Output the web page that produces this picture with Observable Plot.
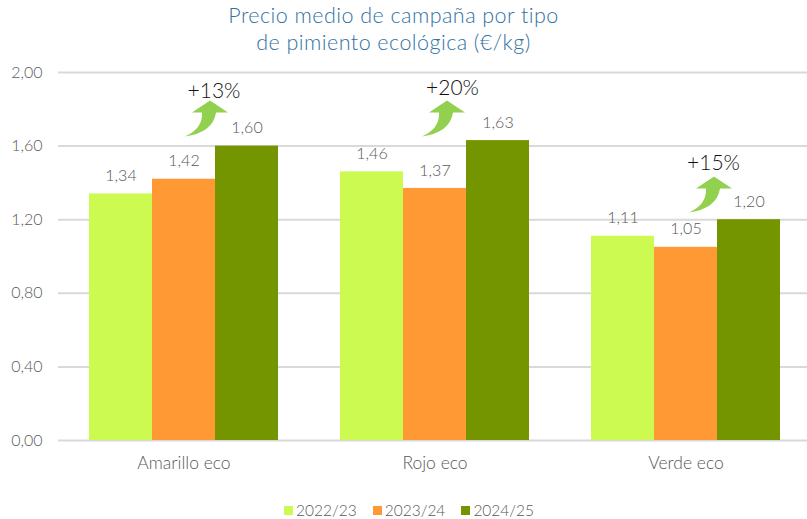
<!DOCTYPE html>
<html><head><meta charset="utf-8">
<script src="https://cdn.jsdelivr.net/npm/d3@7"></script>
<script src="https://cdn.jsdelivr.net/npm/@observablehq/plot@0.6"></script>
<style>
html,body{margin:0;padding:0;background:#fff;width:807px;height:519px;overflow:hidden;font-family:Lato,sans-serif}
#title{height:60px;box-sizing:border-box;padding-top:2px;padding-right:20px;text-align:center;color:#2f72a3;font-size:21.5px;font-weight:300;line-height:26.5px;letter-spacing:.45px}
#legend{position:absolute;top:500px;left:284px;display:flex;gap:16px;color:#595959;font-size:15.5px;font-weight:300;line-height:20px}
#legend span{display:flex;align-items:center;gap:3px}
#legend i{display:inline-block;width:9px;height:9px}
svg{display:block;overflow:hidden}
</style></head><body>
<div id="title">Precio medio de campaña por tipo<br>de pimiento ecológica (€/kg)</div>
<div id="chart"></div>
<div id="legend"></div>
<script>
const categories = ["Amarillo eco", "Rojo eco", "Verde eco"];
const seasons = ["2022/23", "2023/24", "2024/25"];
const values2223 = [1.34, 1.46, 1.11];
const values2324 = [1.42, 1.37, 1.05];
const values2425 = [1.60, 1.63, 1.20];
const colors = ["#ccfa50", "#ff9933", "#759500"];
const changes = ["+13%", "+20%", "+15%"];
const arrowY = [1.75, 1.75, 1.337];
const changeY = [1.90, 1.915, 1.505];
const arrowShift = [24, 10, 26];
const changeShift = [30, 17.5, 27.5];
const yTicks = [0, 0.4, 0.8, 1.2, 1.6, 2];

const fmt = d => d.toFixed(2).replace(".", ",");
const rows = [];
[values2223, values2324, values2425].forEach((vals, s) =>
  vals.forEach((v, c) => rows.push({category: categories[c], season: seasons[s], value: v})));
const notes = categories.map((c, i) => ({category: c, season: seasons[1], change: changes[i], ay: arrowY[i], ly: changeY[i]}));

const arrow = {draw(ctx, size) {
  const s = Math.sqrt(size / Math.PI) / 18;
  ctx.moveTo(2*s, -18*s);
  ctx.lineTo(20*s, -6*s);
  ctx.lineTo(8*s, -6*s);
  ctx.quadraticCurveTo(5*s, 14*s, -23*s, 18*s);
  ctx.quadraticCurveTo(-5*s, 10*s, -6*s, -6*s);
  ctx.lineTo(-16*s, -6*s);
  ctx.closePath();
}};

const chart = Plot.plot({
  width: 807, height: 435,
  marginTop: 12, marginBottom: 55, marginLeft: 57, marginRight: -4,
  style: {fontFamily: "Lato, sans-serif", background: "#fff"},
  fx: {domain: categories, padding: 0, label: null, axis: null},
  x: {domain: seasons, paddingInner: 0, paddingOuter: 0.482, axis: null},
  y: {domain: [0, 2], axis: null},
  color: {domain: seasons, range: colors},
  marks: [
    Plot.ruleY(yTicks, {stroke: "#d9d9d9", strokeWidth: 2}),
    Plot.axisY({ticks: yTicks, tickFormat: fmt, anchor: "left", tickSize: 0, tickPadding: 16, label: null, fontSize: 16, fontWeight: 300, fill: "#595959", facetAnchor: "left"}),
    Plot.axisFx({anchor: "bottom", tickSize: 0, tickPadding: 16, label: null, fontSize: 17.5, fontWeight: 300, fill: "#595959"}),
    Plot.barY(rows, {fx: "category", x: "season", y: "value", fill: "season", style: {filter: "drop-shadow(0 0 2px rgba(0,0,0,.3))"}}),
    Plot.text(rows, {fx: "category", x: "season", y: "value", text: d => fmt(d.value), dy: -18, fontSize: 16, fontWeight: 300, fill: "#595959"}),
    ...notes.map((n, i) => Plot.dot([n], {fx: "category", x: "season", y: "ay", dx: arrowShift[i], r: 18, symbol: arrow, fill: "#92d050", stroke: "none"})),
    ...notes.map((n, i) => Plot.text([n], {fx: "category", x: "season", y: "ly", dx: changeShift[i], text: "change", fontSize: 21, fontWeight: 300, fill: "#111"}))
  ]
});
document.getElementById("chart").append(chart);
const lg = document.getElementById("legend");
seasons.forEach((s, i) => {
  const e = document.createElement("span");
  e.innerHTML = `<i style="background:${colors[i]}"></i>${s}`;
  lg.append(e);
});
</script></body></html>
